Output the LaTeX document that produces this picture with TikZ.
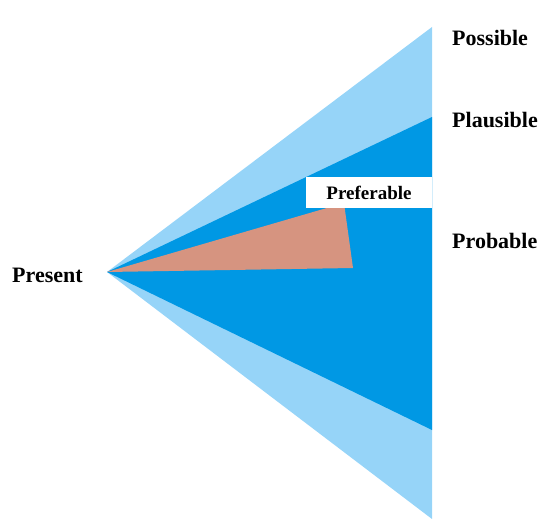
\documentclass[tikz,border=0pt]{standalone}
\usepackage{fontspec}
\setmainfont{Liberation Serif}
\definecolor{possiblecol}{RGB}{150,212,248}
\definecolor{plausiblecol}{RGB}{0,152,228}
\definecolor{preferablecol}{RGB}{214,148,128}

\begin{document}
\begin{tikzpicture}[x=1pt,y=-1pt,%
        lbl/.style={font=\bfseries\fontsize{22}{24}\selectfont,%
                        anchor=base west, inner sep=0pt}]
\useasboundingbox (0,0) rectangle (539,519);
\coordinate (apex) at (107,272);
% the three cones
\fill[possiblecol] (apex) -- (432,27) -- (432,519) -- cycle;
\fill[plausiblecol] (apex) -- (432,117) -- (432,430) -- cycle;
\fill[preferablecol] (apex) -- (344,203) -- (353,268) -- cycle;
% labels
\node[fill=white, inner sep=0pt, minimum width=126pt, minimum height=31pt,%
      font=\bfseries\fontsize{19}{21}\selectfont] (preferable) at (369,192.5) {Preferable};
\node[lbl] (possible) at (452,46) {Possible};
\node[lbl] (plausible) at (452,128) {Plausible};
\node[lbl] (probable) at (452,248) {Probable};
\node[lbl] (present) at (12,282) {Present};
\end{tikzpicture}
\end{document}
